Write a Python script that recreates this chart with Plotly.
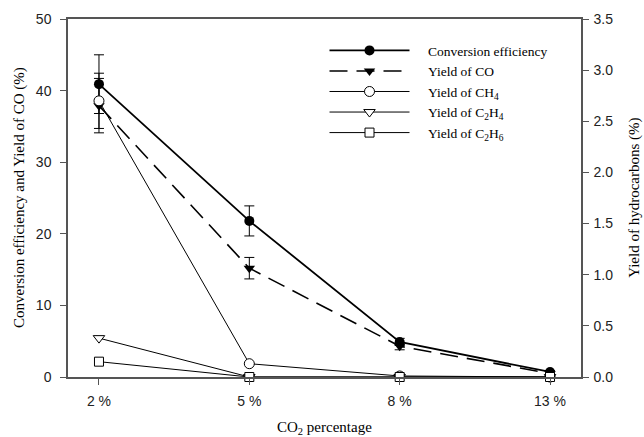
import plotly.graph_objects as go

# CO2 percentage categories
co2_labels = ["2 %", "5 %", "8 %", "13 %"]

# left axis series (%)
conv_eff = [40.9, 21.8, 4.9, 0.7]
conv_err = [4.1, 2.1, 0.5, 0.2]
yield_co = [37.9, 15.2, 4.3, 0.5]
yield_co_err = [3.8, 1.5, 0.5, 0.1]

# right axis series (%)
yield_ch4 = [2.70, 0.13, 0.01, 0.0]
yield_ch4_err = [0.27, 0.0, 0.0, 0.0]
yield_c2h4 = [0.38, 0.0, 0.0, 0.0]
yield_c2h6 = [0.15, 0.0, 0.0, 0.0]

x = list(range(len(co2_labels)))
axis_col = "#555555"
serif = "Liberation Serif, Times New Roman, serif"
sans = "Liberation Sans, Arial, sans-serif"
pad = "\u00a0" * 4  # gap between legend symbol and text

fig = go.Figure()

fig.add_trace(go.Scatter(
    x=x, y=yield_ch4, yaxis="y2", name=pad + "Yield of CH<sub>4</sub>",
    mode="lines+markers",
    line=dict(color="black", width=1),
    marker=dict(symbol="circle", size=10, color="white", line=dict(color="black", width=1)),
    error_y=dict(type="data", array=yield_ch4_err, color="black", thickness=1, width=5),
    legendrank=3,
))
fig.add_trace(go.Scatter(
    x=x, y=yield_c2h4, yaxis="y2", name=pad + "Yield of C<sub>2</sub>H<sub>4</sub>",
    mode="lines+markers",
    line=dict(color="black", width=1),
    marker=dict(symbol="triangle-down", size=10, color="white", line=dict(color="black", width=1)),
    legendrank=4,
))
fig.add_trace(go.Scatter(
    x=x, y=yield_c2h6, yaxis="y2", name=pad + "Yield of C<sub>2</sub>H<sub>6</sub>",
    mode="lines+markers",
    line=dict(color="black", width=1),
    marker=dict(symbol="square", size=9, color="white", line=dict(color="black", width=1)),
    legendrank=5,
))
fig.add_trace(go.Scatter(
    x=x, y=yield_co, name=pad + "Yield of CO",
    mode="lines+markers",
    line=dict(color="black", width=1.6, dash="18px,9px"),
    marker=dict(symbol="triangle-down", size=10, color="black"),
    error_y=dict(type="data", array=yield_co_err, color="black", thickness=1, width=5),
    legendrank=2,
))
fig.add_trace(go.Scatter(
    x=x, y=conv_eff, name=pad + "Conversion efficiency",
    mode="lines+markers",
    line=dict(color="black", width=1.8),
    marker=dict(symbol="circle", size=10, color="black"),
    error_y=dict(type="data", array=conv_err, color="black", thickness=1, width=5),
    legendrank=1,
))

tick_font = dict(family=sans, size=14, color="#222222")
title_font = dict(family=serif, size=15, color="black")

fig.update_layout(
    width=644, height=437,
    margin=dict(l=68, r=63, t=19, b=60),
    plot_bgcolor="white", paper_bgcolor="white",
    showlegend=True,
    legend=dict(
        x=0.5, y=0.955, xanchor="left", yanchor="top",
        font=dict(family=serif, size=13.5, color="black"),
        itemwidth=80, tracegroupgap=0, bgcolor="rgba(0,0,0,0)",
    ),
    xaxis=dict(
        range=[-0.206, 3.206], tickvals=x, ticktext=co2_labels,
        showline=True, linecolor=axis_col, linewidth=1.5, mirror=True,
        ticks="outside", ticklen=6, tickcolor=axis_col, showgrid=False, zeroline=False,
        tickfont=tick_font, ticklabelstandoff=4, automargin=False,
    ),
    yaxis=dict(
        range=[0, 50], tickvals=[0, 10, 20, 30, 40, 50],
        showline=True, linecolor=axis_col, linewidth=1.5,
        ticks="outside", ticklen=6, tickcolor=axis_col, showgrid=False, zeroline=False,
        tickfont=tick_font, ticklabelstandoff=6, automargin=False,
    ),
    yaxis2=dict(
        range=[0, 3.5], tickvals=[0, 0.5, 1.0, 1.5, 2.0, 2.5, 3.0, 3.5],
        tickformat=".1f", overlaying="y", side="right",
        showline=True, linecolor=axis_col, linewidth=1.5,
        ticks="outside", ticklen=6, tickcolor=axis_col, showgrid=False, zeroline=False,
        tickfont=tick_font, ticklabelstandoff=2, automargin=False,
    ),
    annotations=[
        dict(text="CO<sub>2</sub> percentage", xref="paper", yref="paper",
             x=0.5, y=-0.142, xanchor="center", yanchor="middle",
             showarrow=False, font=title_font),
        dict(text="Conversion efficiency and Yield of CO (%)", xref="paper", yref="paper",
             x=-0.0955, y=0.5, xanchor="center", yanchor="middle", textangle=-90,
             showarrow=False, font=title_font),
        dict(text="Yield of hydrocarbons (%)", xref="paper", yref="paper",
             x=1.103, y=0.5, xanchor="center", yanchor="middle", textangle=-90,
             showarrow=False, font=title_font),
    ],
)

fig.update_traces(cliponaxis=False)

# drop the default page margin so the figure sits at the window's corner
fig.write_html("out.html", config={"displayModeBar": False},
               post_script="document.body.style.margin='0';")
